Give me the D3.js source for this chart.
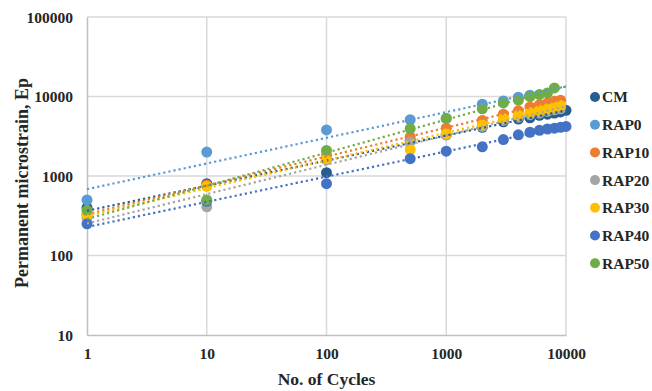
<!DOCTYPE html>
<html>
<head>
<meta charset="utf-8">
<script src="https://cdn.jsdelivr.net/npm/d3@7"></script>
<style>
  html, body { margin: 0; padding: 0; background: #fff; }
  svg { display: block; font-family: "Liberation Serif", "Times New Roman", serif; }
</style>
</head>
<body>
<svg id="chart" width="652" height="391"></svg>
<script>
// Loading cycles at which permanent strain was recorded
const cycles = [1, 10, 100, 500, 1000, 2000, 3000, 4000, 5000, 6000, 7000, 8000, 9000, 10000];

// Permanent microstrain per mix (values follow the cycles list, shorter runs stop early)
const cmStrain    = [400, 800, 1100, 2800, 3300, 4100, 4800, 5200, 5400, 5800, 6000, 6200, 6400, 6700];
const rap0Strain  = [500, 2000, 3800, 5100, 5300, 8000, 8800, 9800, 10400];
const rap10Strain = [330, 770, 1800, 3100, 4000, 5000, 6000, 6600, 7400, 7900, 8300, 8700, 9000];
const rap20Strain = [300, 410, 1600, 2700, 3300, 4200, 5000, 5500, 5900, 6200, 6500, 6800, 7000];
const rap30Strain = [320, 740, 1650, 2150, 3400, 4400, 5300, 5800, 6300, 6700, 7000, 7300, 7700];
const rap40Strain = [250, 480, 800, 1650, 2050, 2330, 2870, 3300, 3550, 3750, 3900, 4000, 4100, 4200];
const rap50Strain = [370, 500, 2100, 3950, 5300, 7000, 8300, 9000, 10000, 10600, 11100, 12800];

const seriesNames  = ["CM", "RAP0", "RAP10", "RAP20", "RAP30", "RAP40", "RAP50"];
const seriesColors = ["#255e91", "#5b9bd5", "#ed7d31", "#a5a5a5", "#ffc000", "#4472c4", "#70ad47"];
const seriesValues = [cmStrain, rap0Strain, rap10Strain, rap20Strain, rap30Strain, rap40Strain, rap50Strain];

const xTicks = [1, 10, 100, 1000, 10000];
const yTicks = [10, 100, 1000, 10000, 100000];

const series = seriesNames.map((name, i) => ({
  name,
  color: seriesColors[i],
  points: seriesValues[i].map((v, j) => ({ x: cycles[j], y: v }))
}));

const svg = d3.select("#chart");
const plot = { left: 87, right: 566, top: 17, bottom: 335 };

const x = d3.scaleLog().domain([1, 10000]).range([plot.left, plot.right]);
const y = d3.scaleLog().domain([10, 100000]).range([plot.bottom, plot.top]);

// Gridlines
const grid = svg.append("g").attr("stroke", "#d9d9d9").attr("stroke-width", 1.5);
grid.selectAll("line.v").data(xTicks.slice(1)).join("line")
  .attr("x1", d => x(d)).attr("x2", d => x(d))
  .attr("y1", plot.top).attr("y2", plot.bottom);
grid.selectAll("line.h").data(yTicks.slice(1)).join("line")
  .attr("x1", plot.left).attr("x2", plot.right)
  .attr("y1", d => y(d)).attr("y2", d => y(d));

// Axes
const xAxis = d3.axisBottom(x).tickValues(xTicks).tickFormat(d3.format("d")).tickSize(0).tickPadding(13);
const yAxis = d3.axisLeft(y).tickValues(yTicks).tickFormat(d3.format("d")).tickSize(0).tickPadding(14);

const gx = svg.append("g").attr("transform", `translate(0,${plot.bottom})`).call(xAxis);
const gy = svg.append("g").attr("transform", `translate(${plot.left},0)`).call(yAxis);
[gx, gy].forEach(g => {
  g.select(".domain").attr("stroke", "#bfbfbf").attr("stroke-width", 1.5);
  g.selectAll("text")
    .attr("font-family", "Liberation Serif, Times New Roman, serif")
    .attr("font-size", 15.5).attr("font-weight", "bold").attr("fill", "#262626");
});
gy.selectAll("text").attr("dy", "0.35em");

// Markers
const markers = svg.append("g");
series.forEach(s => {
  markers.append("g").selectAll("circle").data(s.points).join("circle")
    .attr("cx", d => x(d.x)).attr("cy", d => y(d.y))
    .attr("r", 5.5).attr("fill", s.color);
});

// Power trendlines (least squares in log-log space), spanning the full x range
function powerFit(points) {
  const lx = points.map(p => Math.log10(p.x));
  const ly = points.map(p => Math.log10(p.y));
  const mx = d3.mean(lx), my = d3.mean(ly);
  const b = d3.sum(lx, (v, i) => (v - mx) * (ly[i] - my)) / d3.sum(lx, v => (v - mx) * (v - mx));
  const a = my - b * mx;
  return xv => Math.pow(10, a + b * Math.log10(xv));
}
const trend = svg.append("g");
series.forEach(s => {
  const f = powerFit(s.points);
  const xs = d3.range(0, 4.001, 0.05).map(e => Math.pow(10, e));
  trend.append("path")
    .datum(xs)
    .attr("d", d3.line().x(d => x(d)).y(d => y(f(d))))
    .attr("fill", "none")
    .attr("stroke", s.color)
    .attr("stroke-width", 2.2)
    .attr("stroke-dasharray", "2.2 3")
    .attr("stroke-linecap", "butt");
});

// Axis titles
svg.append("text")
  .attr("x", x(100)).attr("y", 385)
  .attr("text-anchor", "middle")
  .attr("font-size", 17.5).attr("font-weight", "bold").attr("fill", "#262626")
  .text("No. of Cycles");
svg.append("text")
  .attr("transform", "translate(28,183) rotate(-90)")
  .attr("text-anchor", "middle")
  .attr("font-size", 18).attr("font-weight", "bold").attr("fill", "#262626")
  .text("Permanent microstrain, Ep");

// Legend
const legend = svg.append("g").attr("transform", "translate(595,97)");
const rows = legend.selectAll("g").data(series).join("g")
  .attr("transform", (d, i) => `translate(0,${i * 27.7})`);
rows.append("circle").attr("r", 5).attr("fill", d => d.color);
rows.append("text")
  .attr("x", 7).attr("dy", "0.35em")
  .attr("font-size", 15.5).attr("font-weight", "bold").attr("fill", "#262626")
  .text(d => d.name);
</script>
</body>
</html>
